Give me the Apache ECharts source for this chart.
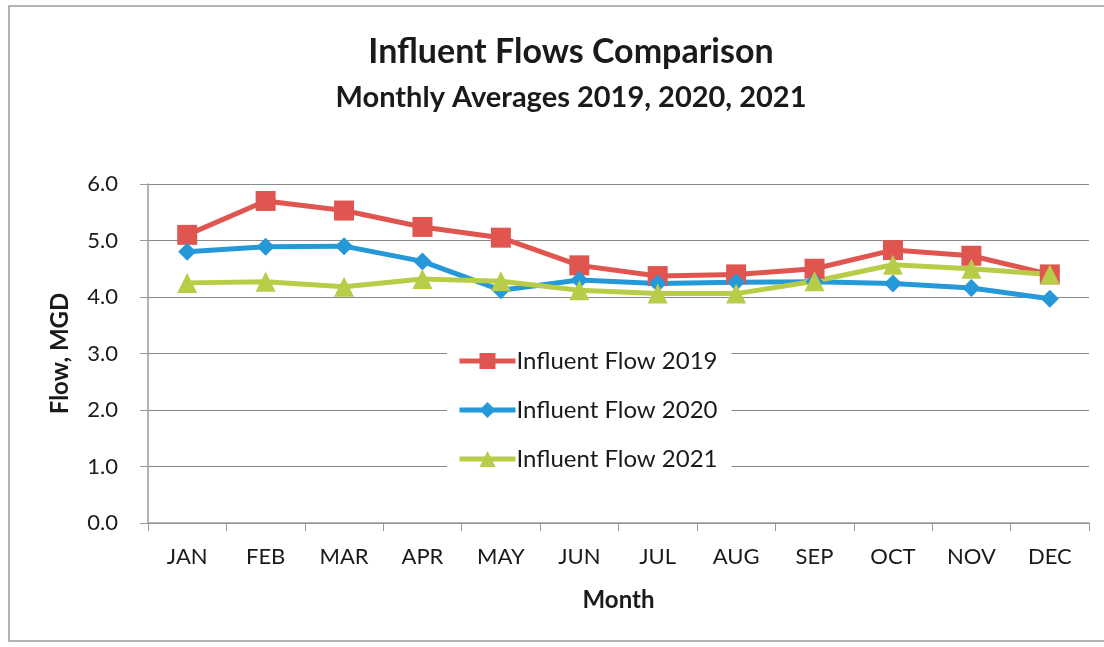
<!DOCTYPE html>
<html>
<head>
<meta charset="utf-8">
<script src="https://cdn.jsdelivr.net/npm/echarts@6/dist/echarts.min.js"></script>
<style>
html,body{margin:0;padding:0;background:#fff;}
#chart{width:1104px;height:647px;}
</style>
</head>
<body>
<div id="chart"></div>
<script>
const months = ['JAN','FEB','MAR','APR','MAY','JUN','JUL','AUG','SEP','OCT','NOV','DEC'];
const flow2019 = [5.10, 5.70, 5.53, 5.24, 5.05, 4.56, 4.37, 4.40, 4.50, 4.83, 4.73, 4.40];
const flow2020 = [4.80, 4.89, 4.90, 4.63, 4.12, 4.30, 4.24, 4.26, 4.27, 4.24, 4.16, 3.97];
const flow2021 = [4.25, 4.27, 4.18, 4.32, 4.28, 4.12, 4.06, 4.06, 4.28, 4.57, 4.50, 4.40];
const yTicks = [0, 1, 2, 3, 4, 5, 6];

const FONT = 'Lato';
const chart = echarts.init(document.getElementById('chart'), null, {renderer: 'canvas'});

function mkSeries(name, data, color, symbol, size) {
  return {
    name: name, type: 'line', data: data,
    symbol: symbol, symbolSize: size,
    lineStyle: {color: color, width: 5},
    itemStyle: {color: color},
    emphasis: {disabled: true},
    animation: false
  };
}

chart.setOption({
  animation: false,
  backgroundColor: '#fff',
  textStyle: {fontFamily: FONT, color: '#1a1a1a'},
  graphic: [{
    type: 'rect', z: -1,
    shape: {x: 9, y: 6, width: 1110, height: 635},
    style: {fill: 'none', stroke: '#9a9a9a', lineWidth: 1.5}
  }],
  title: [{
    text: 'Influent Flows Comparison',
    left: 566, top: 30, textAlign: 'center',
    textStyle: {fontFamily: FONT, fontWeight: 'bold', fontSize: 34, color: '#1a1a1a'}
  }, {
    text: 'Monthly Averages 2019, 2020, 2021',
    left: 566, top: 78, textAlign: 'center',
    textStyle: {fontFamily: FONT, fontWeight: 'bold', fontSize: 29, color: '#1a1a1a'}
  }],
  legend: {
    orient: 'vertical',
    left: 447, top: 335,
    backgroundColor: '#fff',
    padding: [14, 14, 14, 10],
    itemGap: 25,
    itemWidth: 56, itemHeight: 20,
    lineStyle: {width: 5},
    textStyle: {fontFamily: FONT, fontSize: 24, color: '#1a1a1a', padding: [0,0,0,-4]},
    data: ['Influent Flow 2019', 'Influent Flow 2020', 'Influent Flow 2021']
  },
  grid: {left: 148, right: 15, top: 184, bottom: 124, containLabel: false},
  xAxis: {
    type: 'category', data: months, boundaryGap: true,
    name: 'Month', nameLocation: 'middle', nameGap: 65,
    nameTextStyle: {fontFamily: FONT, fontWeight: 'bold', fontSize: 24, color: '#1a1a1a'},
    axisLine: {lineStyle: {color: '#9a9a9a', width: 1.5}},
    axisTick: {show: true, length: 8, lineStyle: {color: '#9a9a9a'}},
    axisLabel: {fontFamily: FONT, fontSize: 22, color: '#1a1a1a', margin: 23, interval: 0}
  },
  yAxis: {
    type: 'value', min: yTicks[0], max: yTicks[yTicks.length - 1], interval: 1,
    name: 'Flow, MGD', nameLocation: 'middle', nameGap: 76, nameRotate: 90,
    nameTextStyle: {fontFamily: FONT, fontWeight: 'bold', fontSize: 24, color: '#1a1a1a'},
    axisLine: {show: true, lineStyle: {color: '#9a9a9a', width: 1.5}},
    axisTick: {show: true, length: 8, lineStyle: {color: '#9a9a9a'}},
    axisLabel: {fontFamily: FONT, fontSize: 22, color: '#1a1a1a', margin: 30,
      formatter: v => v.toFixed(1)},
    splitLine: {lineStyle: {color: '#8a8a8a', width: 1.2}}
  },
  series: [
    mkSeries('Influent Flow 2019', flow2019, '#E0554F', 'rect', 20),
    mkSeries('Influent Flow 2020', flow2020, '#2598D8', 'diamond', 18),
    mkSeries('Influent Flow 2021', flow2021, '#B8CC48', 'triangle', 20)
  ]
});
</script>
</body>
</html>
